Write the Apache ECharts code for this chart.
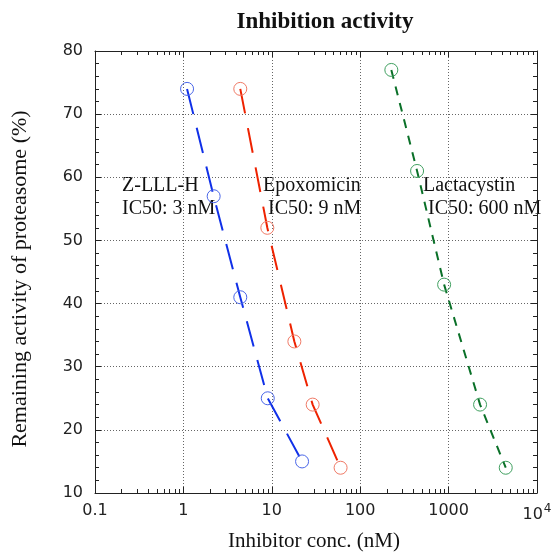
<!DOCTYPE html>
<html>
<head>
<meta charset="utf-8">
<script src="https://cdn.jsdelivr.net/npm/echarts@6/dist/echarts.min.js"></script>
<style>
html,body{margin:0;padding:0;background:#fff;}
#c{width:556px;height:558px;}
</style>
</head>
<body>
<div id="c"></div>
<script>
// Data
var zlllConc = [1.1, 2.2, 4.4, 9, 22];
var zlllAct = [74, 57, 41, 25, 15];
var epoxConc = [4.4, 8.9, 18, 29, 60];
var epoxAct = [74, 52, 34, 24, 14];
var lactConc = [225, 440, 890, 2270, 4430];
var lactAct = [77, 61, 43, 24, 14];
var xTickLabels = {0.1: '0.1', 1: '1', 10: '10', 100: '100', 1000: '1000', 10000: '10{s|4}'};
var annotations = [
  {name: 'Z-LLL-H', ic50: 'IC50: 3 nM'},
  {name: 'Epoxomicin', ic50: 'IC50: 9 nM'},
  {name: 'Lactacystin', ic50: 'IC50: 600 nM'}
];

function pairs(xs, ys) { return xs.map(function (x, i) { return [x, ys[i]]; }); }

var serif = '"Liberation Serif", "Times New Roman", serif';
var sans = '"DejaVu Sans", Verdana, sans-serif';

var chart = echarts.init(document.getElementById('c'), null, {renderer: 'canvas'});

function xAxisBase(pos, showLabel) {
  return {
    type: 'log', logBase: 10, min: 0.1, max: 10000, position: pos,
    axisLine: {show: true, onZero: false, lineStyle: {color: '#222', width: 1}},
    axisTick: {show: true, inside: true, length: 6, lineStyle: {color: '#222'}},
    minorTick: {show: true, splitNumber: 9, length: 4, lineStyle: {color: '#222'}},
    splitLine: {show: showLabel, lineStyle: {color: '#666', type: [1, 2], width: 1}},
    axisLabel: {
      show: showLabel, margin: 10, color: '#222', fontFamily: sans, fontSize: 16,
      formatter: function (v) {
        var k = Math.round(Math.log10(v));
        var key = Math.pow(10, k);
        return xTickLabels[key] !== undefined ? xTickLabels[key] : '';
      },
      rich: {s: {fontSize: 12, verticalAlign: 'top', padding: [0, 0, 12, 1], color: '#222', fontFamily: sans}}
    }
  };
}
function yAxisBase(pos, showLabel) {
  return {
    type: 'value', min: 10, max: 80, interval: 10, position: pos,
    axisLine: {show: true, onZero: false, lineStyle: {color: '#222', width: 1}},
    axisTick: {show: true, inside: true, length: 6, lineStyle: {color: '#222'}},
    minorTick: {show: true, splitNumber: 5, length: 4, lineStyle: {color: '#222'}},
    splitLine: {show: showLabel, lineStyle: {color: '#666', type: [1, 2], width: 1}},
    axisLabel: {show: showLabel, margin: 12, color: '#222', fontFamily: sans, fontSize: 16}
  };
}

var xb = xAxisBase('bottom', true);
var xt = xAxisBase('top', false);
var yl = yAxisBase('left', true);
var yr = yAxisBase('right', false);

function lineSeries(name, xs, ys, lineColor, symColor, dash) {
  return {
    name: name, type: 'line', xAxisIndex: 0, yAxisIndex: 0,
    data: pairs(xs, ys),
    symbol: 'circle', symbolSize: 13,
    itemStyle: {color: 'rgba(0,0,0,0)', borderColor: symColor, borderWidth: 1},
    lineStyle: {color: lineColor, width: 2, type: dash},
    z: 3, animation: false
  };
}

var annX = [122, 263, 423];
var annText = annotations.map(function (a, i) {
  return {
    type: 'text', x: annX[i], y: 174,
    style: {text: a.name + '\n' + (i === 0 ? '' : ' ') + a.ic50, font: '20px ' + serif, fill: '#111', lineHeight: 23}
  };
});

chart.setOption({
  backgroundColor: '#fff',
  animation: false,
  title: {
    text: 'Inhibition activity', left: 320, top: 6, textAlign: 'center',
    textStyle: {fontFamily: serif, fontWeight: 'bold', fontSize: 23, color: '#111'}
  },
  grid: {left: 95, top: 51, width: 442, height: 442, containLabel: false},
  xAxis: [xb, xt],
  yAxis: [yl, yr],
  series: [
    lineSeries('Z-LLL-H', zlllConc, zlllAct, '#1030e8', '#4a66e8', [26, 14]),
    lineSeries('Epoxomicin', epoxConc, epoxAct, '#ee2200', '#f07a66', [25, 15]),
    lineSeries('Lactacystin', lactConc, lactAct, '#0a7028', '#40a060', [9, 8])
  ],
  graphic: annText.concat([
    {type: 'text', x: 314, y: 531,
     style: {text: 'Inhibitor conc. (nM)', font: '21px ' + serif, fill: '#111', textAlign: 'center', textVerticalAlign: 'top'}},
    {type: 'text', rotation: Math.PI / 2, x: 9, y: 279,
     style: {text: 'Remaining activity of proteasome (%)', font: '22px ' + serif, fill: '#111', textAlign: 'center', textVerticalAlign: 'top'}}
  ])
});
</script>
</body>
</html>
